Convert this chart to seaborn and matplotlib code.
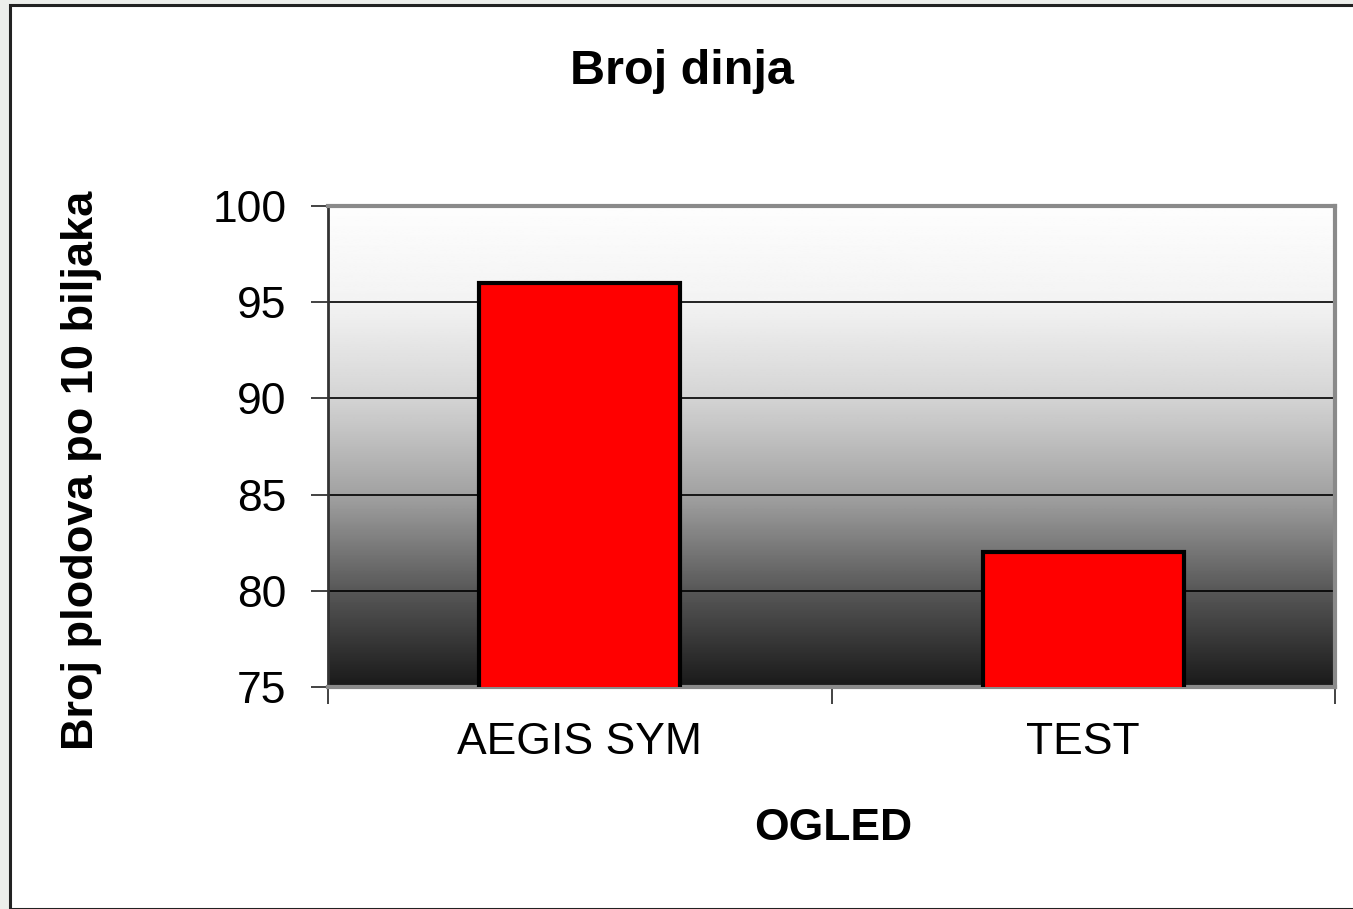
import numpy as np
import pandas as pd
import matplotlib
matplotlib.use("Agg")
import matplotlib.pyplot as plt
from matplotlib.patches import Rectangle
import seaborn as sns

# podaci
ogledi = ["AEGIS SYM", "TEST"]
broj_plodova = [96, 82]
y_ticks = [75, 80, 85, 90, 95, 100]

df = pd.DataFrame({"OGLED": ogledi, "plodovi": broj_plodova})

sns.set_theme(style="white")
plt.rcParams["font.family"] = ["Liberation Sans", "DejaVu Sans"]
plt.rcParams["text.color"] = "black"
plt.rcParams["axes.labelcolor"] = "black"
plt.rcParams["xtick.color"] = "black"
plt.rcParams["ytick.color"] = "black"

fig = plt.figure(figsize=(13.53, 9.09), dpi=100)
fig.patch.set_facecolor("#eceeeb")

# bijeli okvir grafikona
frame = Rectangle((10 / 1353, 0), 1.0, 1 - 5 / 909, transform=fig.transFigure,
                  facecolor="white", edgecolor="#222222", linewidth=2.2, zorder=-5)
fig.patches.append(frame)

ax = fig.add_axes([328 / 1353, 1 - 687 / 909, (1335 - 328) / 1353, (687 - 206) / 909])
ax.set_zorder(2)

# pozadina s gradijentom (svijetlo gore, tamno dolje)
stops_t = [0.0, 0.2, 0.4, 0.6, 0.8, 1.0]
stops_v = [253, 243, 212, 162, 88, 26]
t = np.linspace(0, 1, 256)
grad = np.interp(t, stops_t, stops_v) / 255.0
grad_img = np.repeat(grad[:, None], 2, axis=1)
ax.imshow(grad_img, cmap="gray", vmin=0, vmax=1, aspect="auto",
          extent=[-0.5, 1.5, 75, 100], origin="upper", zorder=0)

sns.barplot(data=df, x="OGLED", y="plodovi", color="#ff0000", width=0.4,
            edgecolor="black", linewidth=3, saturation=1, ax=ax, zorder=3)

ax.set_xlim(-0.5, 1.5)
ax.set_ylim(75, 100)
ax.set_yticks(y_ticks)
for yv in y_ticks[1:-1]:
    ax.axhline(yv, color="black", linewidth=1.2, zorder=1)

ax.set_xticks([0, 1], labels=ogledi)
ax.set_xticks([-0.5, 0.5, 1.5], minor=True)
ax.tick_params(axis="x", which="major", length=0, pad=25, labelsize=32)
ax.tick_params(axis="x", which="minor", direction="out", length=12, width=1.2,
               color="#222222", bottom=True)
ax.tick_params(axis="y", direction="out", length=12, width=1.2, color="#222222",
               pad=18, labelsize=32, left=True)

for side in ["top", "right", "bottom"]:
    ax.spines[side].set_color("#8a8a8a")
    ax.spines[side].set_linewidth(3)
ax.spines["left"].set_color("#333333")
ax.spines["left"].set_linewidth(2)

ax.set_xlabel("OGLED", fontsize=32, fontweight="bold")
ax.set_ylabel("Broj plodova po 10 biljaka", fontsize=32.5, fontweight="bold")
ax.yaxis.set_label_coords(102 / 1353, 1 - 470 / 909, transform=fig.transFigure)
ax.xaxis.set_label_coords(833 / 1353, 1 - 808 / 909, transform=fig.transFigure)

fig.text(682 / 1353, 1 - 72 / 909, "Broj dinja", fontsize=35, fontweight="bold",
         ha="center", va="center")

fig.savefig("out.png", dpi=100)
